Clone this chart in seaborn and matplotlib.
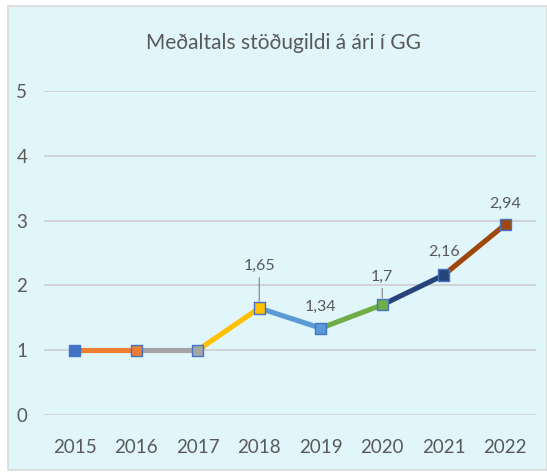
import matplotlib
matplotlib.use("Agg")
import matplotlib.pyplot as plt
import seaborn as sns
import pandas as pd
from matplotlib.patches import Rectangle

# data
years = [2015, 2016, 2017, 2018, 2019, 2020, 2021, 2022]
values = [1.0, 1.0, 1.0, 1.65, 1.34, 1.7, 2.16, 2.94]
point_labels = ['', '', '', '1,65', '1,34', '1,7', '2,16', '2,94']
title = 'Meðaltals stöðugildi á ári í GG'

# office-like colours for each segment / point
seg_colors = ['#ED7D31', '#A5A5A5', '#FFC000', '#5B9BD5', '#70AD47', '#264478', '#9E480E']
pt_colors = ['#4472C4', '#ED7D31', '#A5A5A5', '#FFC000', '#5B9BD5', '#70AD47', '#264478', '#9E480E']

bg = '#E1F6FB'
txt = '#595959'

sns.set_style('white')
plt.rcParams['font.family'] = ['Lato', 'DejaVu Sans']

df = pd.DataFrame({'year': years, 'value': values})

fig = plt.figure(figsize=(5.47, 4.75), dpi=100)
fig.patch.set_facecolor('white')

# chart area background
bgax = fig.add_axes([0, 0, 1, 1], zorder=-1)
bgax.set_axis_off()
bgax.add_patch(Rectangle((8 / 547, 5 / 475), 1 - 8 / 547, 464 / 475,
                         transform=bgax.transAxes, facecolor=bg,
                         edgecolor='#D9D9D9', lw=1.2))

ax = fig.add_axes([44 / 547, 60 / 475, 492 / 547, 324 / 475])
ax.set_facecolor('none')

for i in range(len(years) - 1):
    sns.lineplot(data=df.iloc[i:i + 2], x='year', y='value', ax=ax,
                 color=seg_colors[i], lw=3.7, zorder=3, solid_capstyle='butt')

sns.scatterplot(data=df, x='year', y='value', ax=ax, hue='year',
                palette=pt_colors, marker='s', s=65, edgecolor='#4472C4',
                linewidth=1.0, zorder=4, legend=False)

offsets = {'1,65': 42, '1,34': 21, '1,7': 28, '2,16': 23, '2,94': 21}
leaders = {'1,65', '1,7'}
for x, y, lab in zip(years, values, point_labels):
    if not lab:
        continue
    ap = dict(arrowstyle='-', color='#7F7F7F', lw=0.8, shrinkA=1, shrinkB=5) if lab in leaders else None
    ax.annotate(lab, (x, y), xytext=(0, offsets[lab]), textcoords='offset pixels',
                ha='center', va='center', fontsize=11.5, color=txt,
                arrowprops=ap, zorder=5)

ax.set_xlim(2014.5, 2022.5)
ax.set_ylim(0, 5)
ax.set_xticks(years)
ax.set_xticklabels([str(y) for y in years])
ax.set_yticks(range(0, 6))
ax.grid(axis='y', color='#D0D3D6', lw=1.4, zorder=0)
ax.grid(axis='x', visible=False)
for s in ax.spines.values():
    s.set_visible(False)
ax.tick_params(axis='both', length=0, labelsize=13.5, colors=txt)
ax.tick_params(axis='y', pad=12)
ax.tick_params(axis='x', pad=17)
ax.set_xlabel('')
ax.set_ylabel('')

fig.text(283 / 547, 1 - 43 / 475, title, ha='center', va='center',
         fontsize=15, color=txt)

fig.savefig('out.png', dpi=100, facecolor=fig.get_facecolor())
